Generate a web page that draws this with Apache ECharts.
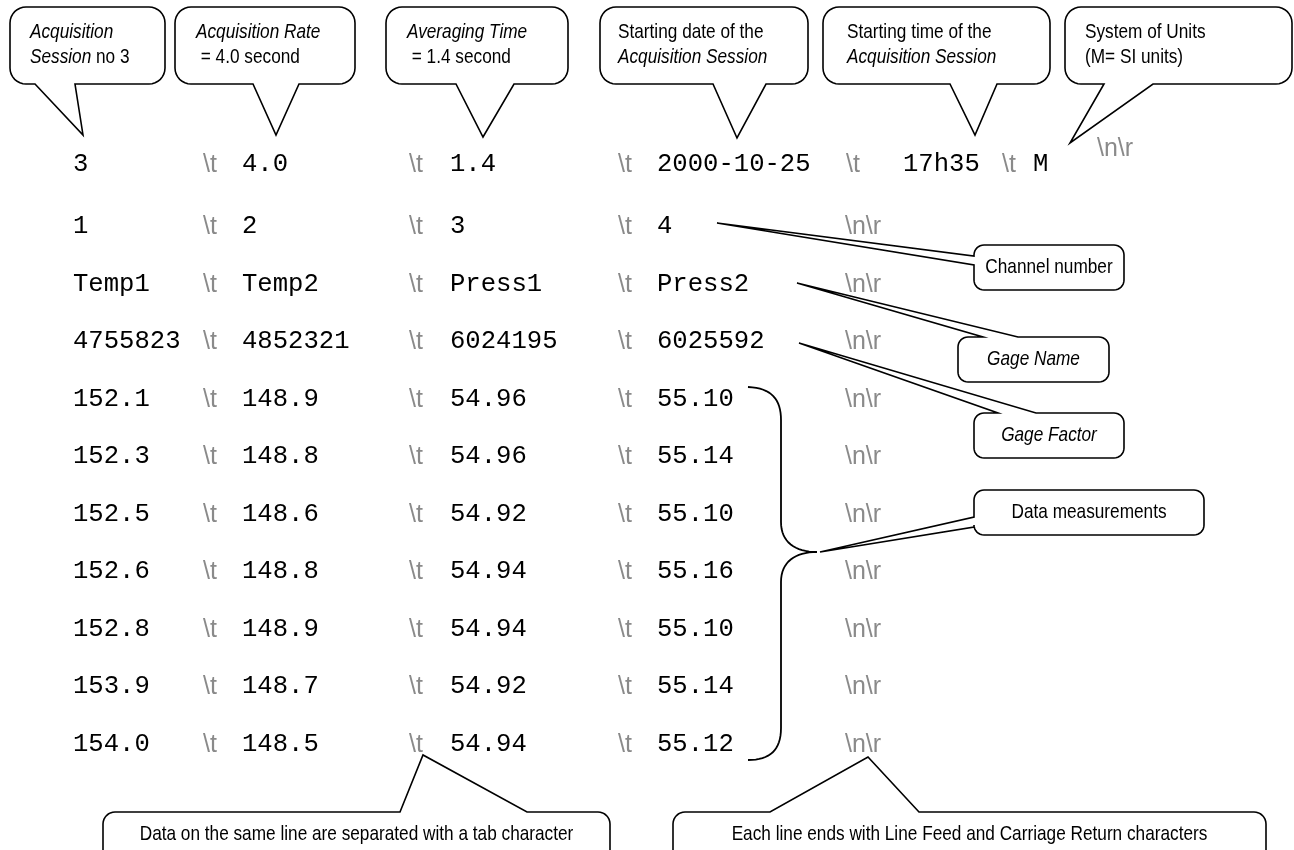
<!DOCTYPE html>
<html>
<head>
<meta charset="utf-8">
<title>Acquisition file format</title>
<style>
  html, body { margin: 0; padding: 0; background: #fff; }
  #main { width: 1294px; height: 850px; }
</style>
<script src="https://cdn.jsdelivr.net/npm/echarts@6.0.0/dist/echarts.min.js"></script>
</head>
<body>
<div id="main"></div>
<script>
// contents of the file
var sessionHeader = ['3', '4.0', '1.4', '2000-10-25', '17h35', 'M'];
var channelNumbers = ['1', '2', '3', '4'];
var gageNames = ['Temp1', 'Temp2', 'Press1', 'Press2'];
var gageFactors = ['4755823', '4852321', '6024195', '6025592'];
var temp1 = [152.1, 152.3, 152.5, 152.6, 152.8, 153.9, 154.0];
var temp2 = [148.9, 148.8, 148.6, 148.8, 148.9, 148.7, 148.5];
var press1 = [54.96, 54.96, 54.92, 54.94, 54.94, 54.92, 54.94];
var press2 = [55.10, 55.14, 55.10, 55.16, 55.10, 55.14, 55.12];
var tabMark = '\\t';
var endMark = '\\n\\r';

// layout, in pixels of the 1294x850 canvas
var rowY = [164, 226, 284, 341, 399, 456, 514, 571, 629, 686, 744];
var colX = [73, 242, 450, 657];
var tabX = [203, 409, 618];
var endX = 845;
var headerX = [73, 242, 450, 657, 903, 1033];
var headerTabX = [203, 409, 618, 846, 1002];
var headerEndX = 1097;

var MONO = "'Courier New', 'Liberation Mono', monospace";
var SANS = "'Liberation Sans', Arial, sans-serif";
var NARROW_SCALE = 0.82; // Arial Narrow look

// build the text cells
var cells = [];
function addCell(x, y, text, mark) { cells.push({ x: x, y: y, text: text, mark: mark }); }

sessionHeader.forEach(function (v, i) {
    addCell(headerX[i], rowY[0], v, false);
    if (i < headerTabX.length) addCell(headerTabX[i], rowY[0], tabMark, true);
});
addCell(headerEndX, rowY[0] - 16, endMark, true);

function addRow(r, values) {
    values.forEach(function (v, i) {
        addCell(colX[i], rowY[r], v, false);
        if (i < tabX.length) addCell(tabX[i], rowY[r], tabMark, true);
    });
    addCell(endX, rowY[r], endMark, true);
}
addRow(1, channelNumbers);
addRow(2, gageNames);
addRow(3, gageFactors);
temp1.forEach(function (t, k) {
    addRow(4 + k, [t.toFixed(1), temp2[k].toFixed(1), press1[k].toFixed(2), press2[k].toFixed(2)]);
});

// callout balloons
var callouts = [
    { box: [10, 7, 165, 84], r: 16, side: 'bottom', base: [35, 75], tip: [83, 135],
      lines: ['{i|Acquisition}', '{i|Session} no 3'], tx: 30, ty: [32, 57], size: 21 },
    { box: [175, 7, 355, 84], r: 16, side: 'bottom', base: [253, 299], tip: [276, 135],
      lines: ['{i|Acquisition Rate}', ' = 4.0 second'], tx: 196, ty: [32, 57], size: 21 },
    { box: [386, 7, 568, 84], r: 16, side: 'bottom', base: [456, 514], tip: [483, 137],
      lines: ['{i|Averaging Time}', ' = 1.4 second'], tx: 407, ty: [32, 57], size: 21 },
    { box: [600, 7, 808, 84], r: 16, side: 'bottom', base: [713, 766], tip: [737, 138],
      lines: ['Starting date of the', '{i|Acquisition Session}'], tx: 618, ty: [32, 57], size: 21 },
    { box: [823, 7, 1050, 84], r: 16, side: 'bottom', base: [950, 997], tip: [975, 135],
      lines: ['Starting time of the', '{i|Acquisition Session}'], tx: 847, ty: [32, 57], size: 21 },
    { box: [1065, 7, 1292, 84], r: 16, side: 'bottom', base: [1104, 1153], tip: [1070, 143],
      lines: ['System of Units', '(M= SI units)'], tx: 1085, ty: [32, 57], size: 21 },
    { box: [974, 245, 1124, 290], r: 10, side: 'left', base: [256, 265], tip: [717, 223],
      lines: ['Channel number'], size: 21 },
    { box: [958, 337, 1109, 382], r: 10, side: 'top', base: [983, 1018], tip: [797, 283],
      lines: ['{i|Gage Name}'], size: 21 },
    { box: [974, 413, 1124, 458], r: 10, side: 'top', base: [998, 1036], tip: [799, 343],
      lines: ['{i|Gage Factor}'], size: 21 },
    { box: [974, 490, 1204, 535], r: 10, side: 'left', base: [517, 527], tip: [820, 552],
      lines: ['Data measurements'], size: 21 },
    { box: [103, 812, 610, 885], r: 12, side: 'top', base: [400, 527], tip: [423, 755],
      lines: ['Data on the same line are separated with a tab character'], ty: [834], size: 21 },
    { box: [673, 812, 1266, 885], r: 12, side: 'top', base: [770, 919], tip: [868, 757],
      lines: ['Each line ends with Line Feed and Carriage Return characters'], ty: [834], size: 21 }
];

// curly brace grouping the measurement rows
var braceSegments = [
    [[748, 387], [772, 388], [781, 400], [781, 420]],
    [[781, 420], [781, 470], [781, 480], [781, 522]],
    [[781, 522], [781, 542], [795, 552], [817, 552]],
    [[817, 552], [795, 552], [781, 562], [781, 582]],
    [[781, 582], [781, 650], [781, 660], [781, 728]],
    [[781, 728], [781, 750], [770, 760], [748, 760]]
];

function outline(c) {
    var x0 = c.box[0], y0 = c.box[1], x1 = c.box[2], y1 = c.box[3], r = c.r, pts = [];
    function arc(cx, cy, a0, a1) {
        for (var k = 0; k <= 8; k++) {
            var a = a0 + (a1 - a0) * k / 8;
            pts.push([cx + r * Math.cos(a), cy + r * Math.sin(a)]);
        }
    }
    arc(x0 + r, y0 + r, Math.PI, 1.5 * Math.PI);
    if (c.side === 'top') pts.push([c.base[0], y0], c.tip, [c.base[1], y0]);
    arc(x1 - r, y0 + r, 1.5 * Math.PI, 2 * Math.PI);
    arc(x1 - r, y1 - r, 0, 0.5 * Math.PI);
    if (c.side === 'bottom') pts.push([c.base[1], y1], c.tip, [c.base[0], y1]);
    arc(x0 + r, y1 - r, 0.5 * Math.PI, Math.PI);
    if (c.side === 'left') pts.push([x0, c.base[1]], c.tip, [x0, c.base[0]]);
    return pts;
}

function bezierPoints(segs) {
    var pts = [];
    segs.forEach(function (s) {
        for (var k = 0; k <= 16; k++) {
            var t = k / 16, u = 1 - t;
            pts.push([
                u * u * u * s[0][0] + 3 * u * u * t * s[1][0] + 3 * u * t * t * s[2][0] + t * t * t * s[3][0],
                u * u * u * s[0][1] + 3 * u * u * t * s[1][1] + 3 * u * t * t * s[2][1] + t * t * t * s[3][1]
            ]);
        }
    });
    return pts;
}

function richStyle(size) {
    return { i: { fontStyle: 'italic', fontSize: size, fontFamily: SANS, fill: '#000' } };
}

var myChart = echarts.init(document.getElementById('main'));

var option = {
    animation: false,
    backgroundColor: '#fff',
    grid: { left: 0, right: 0, top: 0, bottom: 0 },
    xAxis: { type: 'value', min: 0, max: 1294, show: false },
    yAxis: { type: 'value', min: 0, max: 850, inverse: true, show: false },
    series: [
        {
            // balloons
            type: 'custom',
            data: callouts.map(function (c) { return [c.tip[0], c.tip[1]]; }),
            renderItem: function (params, api) {
                var c = callouts[params.dataIndex];
                var pts = outline(c).map(function (p) { return api.coord(p); });
                var children = [{
                    type: 'polygon',
                    shape: { points: pts },
                    style: { fill: '#fff', stroke: '#000', lineWidth: 1.6 }
                }];
                var centred = c.tx == null;
                var cx = (c.box[0] + c.box[2]) / 2;
                var cy = (c.box[1] + c.box[3]) / 2;
                c.lines.forEach(function (line, k) {
                    var p = api.coord([centred ? cx : c.tx, c.ty ? c.ty[k] : cy]);
                    children.push({
                        type: 'text',
                        x: p[0], y: p[1],
                        scaleX: NARROW_SCALE,
                        style: {
                            text: line,
                            fill: '#000',
                            fontSize: c.size,
                            fontFamily: SANS,
                            align: centred ? 'center' : 'left',
                            verticalAlign: 'middle',
                            rich: richStyle(c.size)
                        }
                    });
                });
                return { type: 'group', children: children };
            }
        },
        {
            // brace
            type: 'custom',
            data: [[781, 552]],
            renderItem: function (params, api) {
                return {
                    type: 'polyline',
                    shape: { points: bezierPoints(braceSegments).map(function (p) { return api.coord(p); }) },
                    style: { fill: 'none', stroke: '#000', lineWidth: 1.8 }
                };
            }
        },
        {
            // file contents
            type: 'custom',
            data: cells.map(function (c) { return [c.x, c.y]; }),
            renderItem: function (params, api) {
                var c = cells[params.dataIndex];
                var p = api.coord([api.value(0), api.value(1)]);
                return {
                    type: 'text',
                    x: p[0], y: c.mark ? p[1] + 1 : p[1],
                    style: {
                        text: c.text,
                        fill: c.mark ? '#8a8a8a' : '#000',
                        fontSize: c.mark ? 25 : 25.6,
                        fontFamily: c.mark ? SANS : MONO,
                        align: 'left',
                        verticalAlign: 'middle'
                    }
                };
            }
        }
    ]
};

myChart.setOption(option);
</script>
</body>
</html>
